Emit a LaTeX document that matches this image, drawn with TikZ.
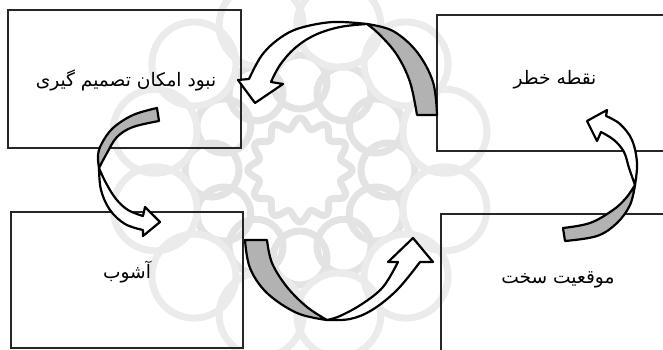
\documentclass[tikz,border=0pt]{standalone}
\usepackage{fontspec}
\newfontfamily\arabicfont[Script=Arabic]{DejaVu Sans}
\TeXXeTstate=1
\tikzset{
  box/.style={draw=black!85,line width=0.6pt,inner sep=0pt},
  lbl/.style={font=\arabicfont\fontsize{9.3}{11}\selectfont,inner sep=0pt},
  arrw/.style={draw=black,line width=1.1pt,line join=round},
  tail/.style={arrw,fill=black!30},
  wm/.style={draw=black!11,line width=3.5pt},
}

\begin{document}
\begin{tikzpicture}[x=0.5pt,y=-0.5pt]
\useasboundingbox (0,0) rectangle (663,349);
\clip (0,0) rectangle (663,349);

% watermark
\draw[wm] plot[smooth cycle,samples=145,domain=0:357.5,variable=\t]
  ({300+(47+5*cos(12*\t))*cos(\t)},{170+(47+5*cos(12*\t))*sin(\t)});
\foreach \a in {0,30,...,330}
  \draw[wm] (300,170) ++(\a:88) circle (27);
\foreach \a in {15,45,...,345}
  \draw[wm,draw=black!8] (300,170) ++(\a:150) circle (42);

% boxes
\node[box,minimum width=116.5pt,minimum height=69pt] (nobud) at (124.5,79) {};
\node[box,minimum width=118pt,minimum height=68pt] (khatar) at (555,83) {};
\node[box,minimum width=116pt,minimum height=68pt] (ashub) at (127,280) {};
\node[box,minimum width=117pt,minimum height=69pt] (movqe) at (558,283) {};

\node[lbl] (nobudtxt) at (126,80) {\beginR نبود امکان تصمیم گیری\endR};
\node[lbl] (khatartxt) at (555,80) {\beginR نقطه خطر\endR};
\node[lbl] (ashubtxt) at (127,272) {\beginR آشوب\endR};
\node[lbl] (movqetxt) at (558,280) {\beginR موقعیت سخت\endR};

% khatar -> nobud
\filldraw[tail] plot[smooth,tension=.6] coordinates {(367,24) (393,31) (417,52) (433,82) (437,115)}
  -- (417,115) -- plot[smooth,tension=.6] coordinates {(417,115) (410,82) (397,55) (380,35) (367,24)} -- cycle;
\filldraw[arrw,fill=white] plot[smooth,tension=.6] coordinates {(367,24) (333,22) (300,28) (280,38) (262,55) (249,79)}
  -- (238,80) -- (255,103) -- (283,84) -- (271,82)
  -- plot[smooth,tension=.6] coordinates {(271,82) (280,65) (295,48) (315,35) (340,27) (367,24)} -- cycle;

% nobud -> ashub
\filldraw[tail] (157,108) -- (159,121)
  -- plot[smooth,tension=.6] coordinates {(159,121) (133,127) (117,137) (107,153) (99,168)}
  -- plot[smooth,tension=.6] coordinates {(99,168) (98,155) (102,143) (113,128) (133,115) (157,108)} -- cycle;
\filldraw[arrw,fill=white] plot[smooth,tension=.6] coordinates {(99,168) (101,190) (110,210) (125,224) (143,230)}
  -- (143,236) -- (160,222) -- (145,207) -- (143,216)
  -- plot[smooth,tension=.6] coordinates {(143,216) (128,210) (116,199) (106,183) (99,168)} -- cycle;

% ashub -> movqe
\filldraw[tail] (245,240) -- (267,240)
  -- plot[smooth,tension=.6] coordinates {(267,240) (272,263) (287,287) (307,307) (327,320)}
  -- plot[smooth,tension=.6] coordinates {(327,320) (297,313) (267,293) (250,268) (245,240)} -- cycle;
\filldraw[arrw,fill=white] plot[smooth,tension=.6] coordinates {(327,320) (350,319) (372,310) (397,290) (420,262)}
  -- (433,262) -- (413,238) -- (388,262) -- (398,262)
  -- plot[smooth,tension=.6] coordinates {(398,262) (383,287) (362,304) (340,316) (327,320)} -- cycle;

% movqe -> khatar
\filldraw[tail] plot[smooth,tension=.6] coordinates {(635,185) (630,205) (617,223) (597,236) (565,241)}
  -- (563,228) -- plot[smooth,tension=.6] coordinates {(563,228) (590,223) (613,210) (626,198) (635,185)} -- cycle;
\filldraw[arrw,fill=white] plot[smooth,tension=.6] coordinates {(635,185) (637,163) (632,140) (620,124) (606,116)}
  -- (607,110) -- (587,121) -- (597,141) -- (601,132)
  -- plot[smooth,tension=.6] coordinates {(601,132) (614,140) (624,152) (629,168) (635,185)} -- cycle;

\end{tikzpicture}
\end{document}
